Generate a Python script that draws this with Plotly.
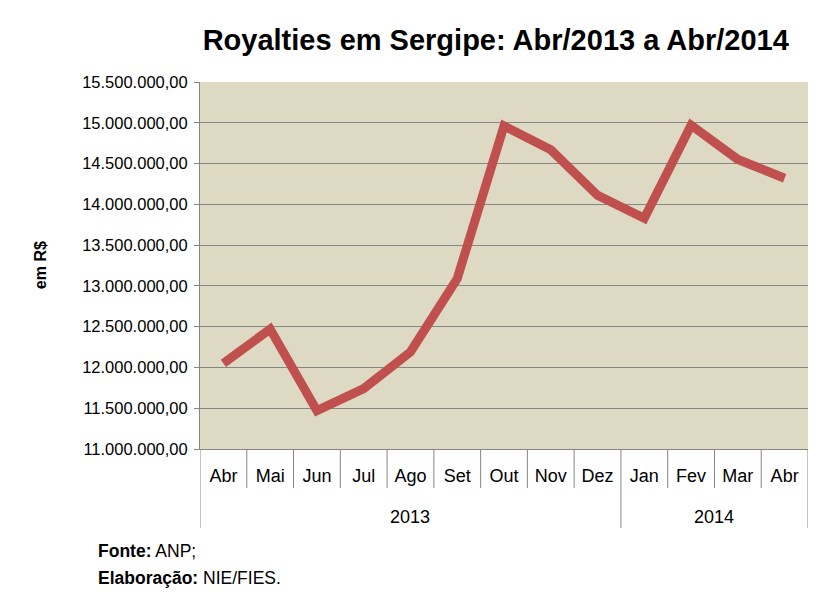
import plotly.graph_objects as go

# monthly royalties (R$)
years = ["2013"] * 9 + ["2014"] * 4
months = ["Abr", "Mai", "Jun", "Jul", "Ago", "Set", "Out", "Nov", "Dez",
          "Jan", "Fev", "Mar", "Abr"]
royalties = [12050000, 12470000, 11470000, 11740000, 12190000, 13090000,
             14960000, 14670000, 14110000, 13830000, 14970000, 14550000,
             14320000]

font_family = "Liberation Sans, Arial, sans-serif"
grid_col = "#868686"
idx = list(range(len(months)))

fig = go.Figure()
fig.add_trace(
    go.Scatter(
        x=idx,
        y=royalties,
        mode="lines",
        line=dict(color="#C0504D", width=9),
        customdata=[f"{m}/{y}" for m, y in zip(months, years)],
        hovertemplate="%{customdata}: %{y:,.2f}<extra></extra>",
    )
)

fig.update_layout(
    width=829,
    height=602,
    paper_bgcolor="white",
    plot_bgcolor="#DDD9C3",
    separators=",.",
    showlegend=False,
    margin=dict(l=200, r=21, t=82, b=153),
    font=dict(family=font_family, size=16, color="black"),
    title=dict(
        text="<b>Royalties em Sergipe: Abr/2013 a Abr/2014</b>",
        x=0.598,
        xref="container",
        xanchor="center",
        y=0.934,
        yref="container",
        yanchor="middle",
        font=dict(size=29, color="black"),
    ),
)

fig.update_yaxes(
    range=[11000000, 15500000],
    dtick=500000,
    tickformat=",.2f",
    showgrid=True,
    gridcolor=grid_col,
    gridwidth=1,
    showline=True,
    linecolor=grid_col,
    ticks="outside",
    ticklen=5,
    tickcolor=grid_col,
    ticklabelstandoff=3,
    zeroline=False,
    tickfont=dict(size=16.5),
)

fig.update_xaxes(
    range=[-0.5, len(months) - 0.5],
    tickvals=idx,
    ticktext=months,
    ticks="",
    ticklabelstandoff=10,
    showline=True,
    linecolor=grid_col,
    showgrid=False,
    zeroline=False,
    tickfont=dict(size=18),
)

# category table under the axis: month cells and year groups
month_row = -39 / 367
year_row = -79 / 367
for i in range(len(months) + 1):
    group_edge = i == 0 or i == len(months) or years[i] != years[i - 1]
    fig.add_shape(
        type="line",
        xref="x", yref="paper",
        x0=i - 0.5, x1=i - 0.5,
        y0=0, y1=year_row if group_edge else month_row,
        line=dict(color=grid_col, width=1),
    )

for yr in dict.fromkeys(years):
    pos = [i for i, y in enumerate(years) if y == yr]
    fig.add_annotation(
        text=yr,
        xref="x", yref="paper",
        x=(pos[0] + pos[-1]) / 2, y=-68 / 367,
        yanchor="middle",
        showarrow=False,
        font=dict(size=18),
    )

fig.add_annotation(
    text="<b>em R$</b>",
    textangle=-90,
    xref="paper", yref="paper",
    x=-160 / 608, y=0.501,
    xanchor="center", yanchor="middle",
    showarrow=False,
    font=dict(size=16),
)
fig.add_annotation(
    text="<b>Fonte:</b> ANP;",
    xref="paper", yref="paper",
    x=-104 / 608, y=-102 / 367,
    xanchor="left", yanchor="middle",
    showarrow=False,
    font=dict(size=17.5),
)
fig.add_annotation(
    text="<b>Elaboração:</b> NIE/FIES.",
    xref="paper", yref="paper",
    x=-104 / 608, y=-129 / 367,
    xanchor="left", yanchor="middle",
    showarrow=False,
    font=dict(size=17.5),
)

fig.write_html(
    "out.html",
    config={"displayModeBar": False},
    post_script="document.body.style.margin='0';",
)
